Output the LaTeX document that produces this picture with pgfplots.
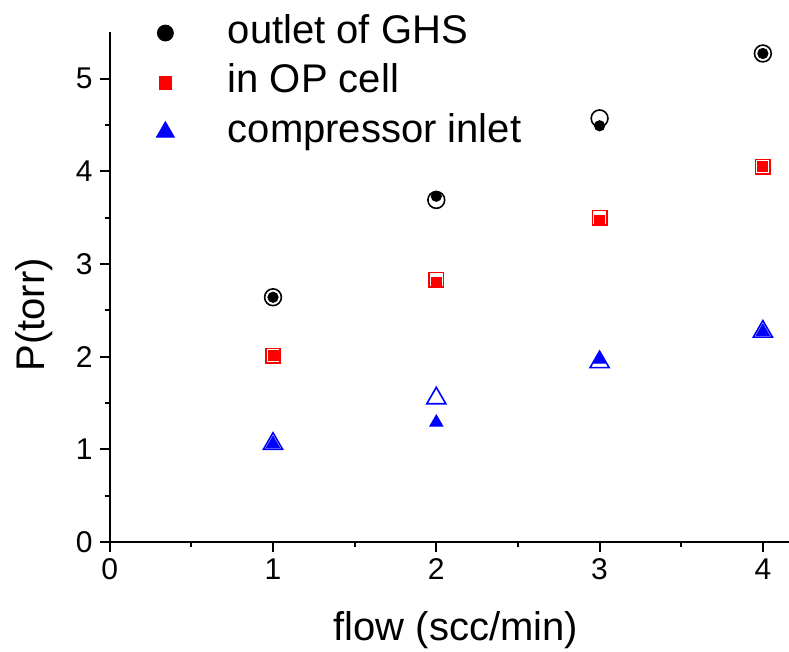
\documentclass[border=0pt]{standalone}
\usepackage{fontspec}
\setmainfont{Liberation Sans}
\usepackage{pgfplots}
\pgfplotsset{compat=1.18}

\begin{document}
\begin{tikzpicture}
  \begin{axis}[
    x=81.65pt, y=46.35pt,
    xmin=0, xmax=4.16,
    ymin=0, ymax=5.5,
    axis x line=bottom, axis y line=left,
    axis line style={-, line width=1.2pt},
    every tick/.style={black, line width=1pt},
    tick align=outside,
    major tick length=5pt, minor tick length=2.5pt,
    xtick={0,1,2,3,4}, ytick={0,1,2,3,4,5},
    minor x tick num=1, minor y tick num=1,
    tick label style={font=\fontsize{15}{17}\selectfont},
    /pgf/number format/assume math mode=true,
    label style={font=\fontsize{20}{24}\selectfont},
    xlabel={flow (scc/min)},
    ylabel={P(torr)},
    xlabel style={at={(axis cs:2.12,-0.95)}, anchor=center},
    ylabel style={at={(axis cs:-0.464,2.45)}, anchor=center},
    clip=false,
    legend style={draw=none, fill=none, at={(axis cs:0.216,5.728)},
      anchor=north west, inner sep=0pt, outer sep=0pt,
      font=\fontsize{20}{24}\selectfont,
      nodes={inner sep=1pt, text height=15pt, text depth=5pt},
      row sep=2.75pt},
    legend cell align=left,
    legend image code/.code={
      \draw[#1] plot coordinates {(10pt,0pt)};
      \path (0pt,0pt) (40pt,0pt);
    },
  ]
    % legend markers (filled, a bit larger than in the plot)
    \addlegendimage{only marks, mark=*, mark size=4pt, black}
    \addlegendentry{outlet of GHS}
    \addlegendimage{only marks, mark=square*, mark size=3.2pt, red}
    \addlegendentry{in OP cell}
    \addlegendimage{only marks, mark=triangle*, mark size=5.2pt, blue}
    \addlegendentry{compressor inlet}

    % open markers
    \addplot[forget plot, only marks, mark=o, mark size=4.2pt, black,
      mark options={line width=0.8pt}] coordinates {
      (1,2.64)(2,3.69)(3,4.57)(4,5.27)
    };
    \addplot[forget plot, only marks, mark=square, mark size=3.6pt, red,
      mark options={line width=0.8pt}] coordinates {
      (1,2.01)(2,2.83)(3,3.50)(4,4.05)
    };
    \addplot[forget plot, only marks, mark=triangle, mark size=5.5pt, blue,
      mark options={line width=0.8pt}] coordinates {
      (1,1.06)(2,1.55)(3,1.94)(4,2.27)
    };

    % filled markers
    \addplot[forget plot, only marks, mark=*, mark size=2.6pt, black] coordinates {
      (1,2.64)(2,3.73)(3,4.49)(4,5.27)
    };
    \addplot[forget plot, only marks, mark=square*, mark size=2.5pt, red] coordinates {
      (1,2.01)(2,2.80)(3,3.47)(4,4.05)
    };
    \addplot[forget plot, only marks, mark=triangle*, mark size=3.8pt, blue] coordinates {
      (1,1.06)(2,1.29)(3,1.97)(4,2.27)
    };

    \coordinate (bl) at (axis cs:-0.672,-1.187);
    \coordinate (tr) at (axis cs:4.16,5.847);
  \end{axis}
  \pgfresetboundingbox
  \path (bl) rectangle (tr);
\end{tikzpicture}
\end{document}
